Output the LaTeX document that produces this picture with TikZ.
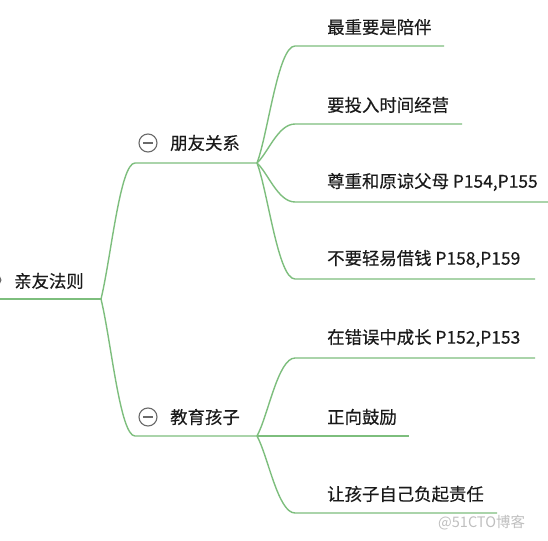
\documentclass[tikz,border=0pt]{standalone}
\usepackage{fontspec}
\setmainfont{Noto Sans CJK SC}
\newfontfamily\lblfont[FakeBold=0.35]{Noto Sans CJK SC}
\definecolor{linegreen}{HTML}{7DBE7D}
\definecolor{txt}{HTML}{1A1A1A}
\definecolor{icongray}{HTML}{6A6A6A}
\tikzset{
  conn/.style={draw=linegreen, line width=1.4pt},
  lbl/.style={anchor=west, inner sep=0pt, text=txt, font=\lblfont\fontsize{17.4}{20}\selectfont},
  icon/.style={circle, draw=icongray, line width=1.1pt, minimum size=18pt, inner sep=0pt},
  wm/.style={anchor=west, inner sep=0pt, text=black!25, font=\fontsize{14.5}{18}\selectfont}
}
\begin{document}
\begin{tikzpicture}[x=1pt,y=-1pt]
\useasboundingbox[fill=white] (0,0) rectangle (548,540);

% junctions and line ends
\coordinate (j0) at (101,299);
\coordinate (r0) at (0,299);
\coordinate (j1) at (257,163);
\coordinate (j2) at (257,436);
\coordinate (b1s) at (135,163);
\coordinate (b2s) at (135,436);

\coordinate (c1s) at (295,46);  \coordinate (c1e) at (444,46);
\coordinate (c2s) at (295,124); \coordinate (c2e) at (462,124);
\coordinate (c3s) at (295,202); \coordinate (c3e) at (548,202);
\coordinate (c4s) at (295,279); \coordinate (c4e) at (535,279);
\coordinate (c5s) at (295,358); \coordinate (c5e) at (535,358);
\coordinate (c6s) at (295,436); \coordinate (c6e) at (409,436);
\coordinate (c7s) at (295,513); \coordinate (c7e) at (497,513);

% root
\fill[icongray] (-3,280) circle (4.5);
\node[lbl] (root) at (14,281) {亲友法则};

% branches
\node[icon] (i1) at (148,143) {};
\draw[icongray, line width=1.1pt] ([xshift=-5pt]i1.center) -- ([xshift=5pt]i1.center);
\node[lbl] (b1) at (170,143) {朋友关系};
\node[icon] (i2) at (148,417) {};
\draw[icongray, line width=1.1pt] ([xshift=-5pt]i2.center) -- ([xshift=5pt]i2.center);
\node[lbl] (b2) at (170,417) {教育孩子};

% children
\node[lbl] (c1) at (327,27)  {最重要是陪伴};
\node[lbl] (c2) at (327,105) {要投入时间经营};
\node[lbl] (c3) at (327,182) {尊重和原谅父母 P154,P155};
\node[lbl] (c4) at (327,259) {不要轻易借钱 P158,P159};
\node[lbl] (c5) at (327,338) {在错误中成长 P152,P153};
\node[lbl] (c6) at (327,417) {正向鼓励};
\node[lbl] (c7) at (327,494) {让孩子自己负起责任};

% connectors
\draw[conn] (r0) -- (j0);
\draw[conn] (j0) .. controls +(10,-41) and +(-15,0) .. (b1s) -- (j1);
\draw[conn] (j0) .. controls +(10,41) and +(-15,0) .. (b2s) -- (j2);

\draw[conn] (j1) .. controls +(11,-29) and +(-17,0) .. (c1s) -- (c1e);
\draw[conn] (j1) .. controls +(11,-10) and +(-17,0) .. (c2s) -- (c2e);
\draw[conn] (j1) .. controls +(11,10) and +(-17,0) .. (c3s) -- (c3e);
\draw[conn] (j1) .. controls +(11,29) and +(-17,0) .. (c4s) -- (c4e);

\draw[conn] (j2) .. controls +(11,-20) and +(-17,0) .. (c5s) -- (c5e);
\draw[conn] (j2) -- (c6s) -- (c6e);
\draw[conn] (j2) .. controls +(11,20) and +(-17,0) .. (c7s) -- (c7e);

% watermark
\node[wm] (wm) at (438,523) {@51CTO博客};
\end{tikzpicture}
\end{document}
